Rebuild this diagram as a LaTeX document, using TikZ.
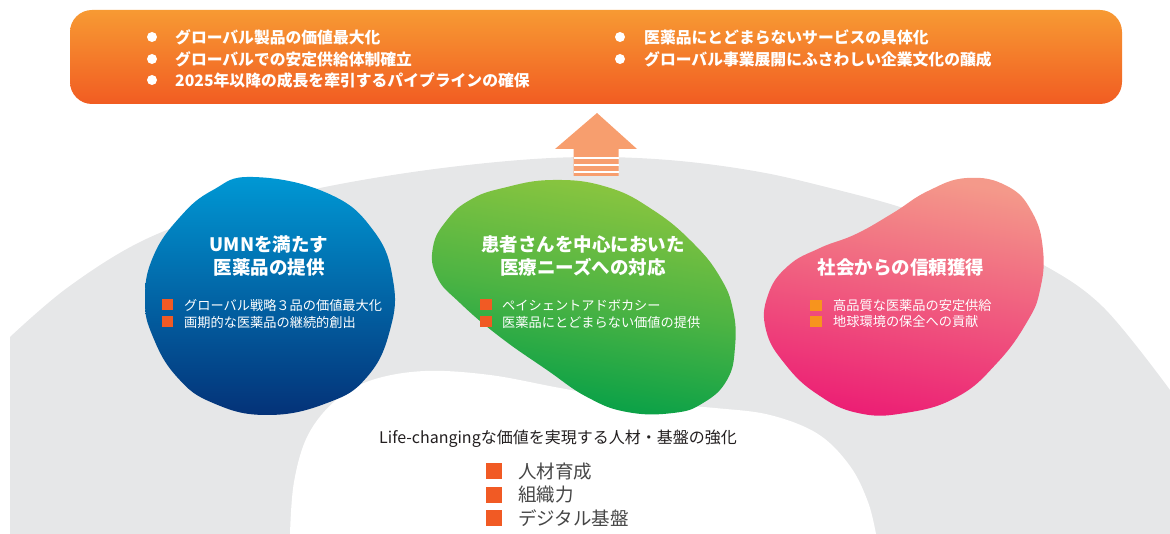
\documentclass[tikz,border=0pt]{standalone}
\usepackage{fontspec}
\setmainfont{Noto Sans CJK JP}
\definecolor{boxtop}{RGB}{247,154,51}
\definecolor{boxbot}{RGB}{241,92,34}
\definecolor{arrowc}{RGB}{247,158,110}
\definecolor{domegrey}{RGB}{230,231,232}
\definecolor{bluetop}{RGB}{0,152,212}
\definecolor{bluebot}{RGB}{4,50,120}
\definecolor{greentop}{RGB}{141,198,63}
\definecolor{greenbot}{RGB}{0,158,72}
\definecolor{pinktop}{RGB}{244,153,138}
\definecolor{pinkbot}{RGB}{236,30,116}
\definecolor{sqorange}{RGB}{241,90,36}
\definecolor{sqlight}{RGB}{247,148,29}
\definecolor{darktext}{RGB}{35,31,32}
\definecolor{listtext}{RGB}{70,70,70}
\begin{document}
\begin{tikzpicture}[x=1pt,y=-1pt,
  titletext/.style={font=\bfseries\fontsize{18.5}{22.5}\selectfont, text=white, align=center, inner sep=0pt},
  itemtext/.style={font=\fontsize{13.2}{16}\selectfont, text=white, anchor=west, inner sep=0pt},
  toptext/.style={font=\bfseries\fontsize{15.8}{19}\selectfont, text=white, anchor=west, inner sep=0pt},
  basetext/.style={font=\fontsize{18.5}{22}\selectfont, text=listtext, anchor=west, inner sep=0pt},
  sqbox/.style={fill=sqorange},
  blob/.style={smooth cycle, tension=0.75}
]
\useasboundingbox (0,0) rectangle (1170,534);

% grey dome
\fill[domegrey] (10,534) -- plot[smooth, tension=0.6] coordinates {(10,337) (67,288) (140,242) (220,212) (320,188) (420,171) (520,160) (600,157) (680,161) (760,172) (830,188) (900,207) (970,232) (1040,263) (1103,307) (1170,390)} -- (1170,534) -- cycle;

% white inner blob
\fill[white] (290,540) -- plot[smooth, tension=0.6] coordinates {(290,534) (294,482) (308,435) (336,400) (372,380) (425,371) (490,375) (560,388) (640,402) (715,408) (770,415) (818,434) (850,466) (868,502) (876,534)} -- (876,540) -- cycle;

% top box
\shade[top color=boxtop, bottom color=boxbot, rounded corners=22pt] (70,10) rectangle (1122,104);

% arrow
\fill[arrowc] (597,113) -- (637,149) -- (618.5,149) -- (618.5,176) -- (573.5,176) -- (573.5,149) -- (555,149) -- cycle;
\foreach \yy in {158.3,165.3,171.7}
  \fill[white] (573.5,\yy-1) rectangle (618.5,\yy+1);

% blue blob
\shade[top color=bluetop, bottom color=bluebot] plot[blob] coordinates {(253,177) (327,193) (373,230) (393,280) (390,330) (367,377) (327,403) (267,415) (213,403) (177,377) (153,337) (145,300) (153,257) (180,217) (213,190)};

% green blob
\shade[top color=greentop, bottom color=greenbot, middle color=greentop!55!greenbot, shading angle=-10] plot[blob] coordinates {(553,180) (607,187) (653,210) (693,243) (720,277) (733,310) (735,347) (727,380) (703,403) (673,413) (627,412) (587,397) (547,370) (500,337) (460,303) (437,277) (433,247) (447,220) (470,200) (503,188)};

% pink blob
\shade[top color=pinktop, bottom color=pinkbot, shading angle=-10] plot[blob] coordinates {(967,178) (1007,186) (1032,212) (1043,250) (1040,290) (1027,322) (997,363) (957,397) (905,413) (858,413) (817,394) (785,364) (766,330) (768,295) (788,266) (820,248) (856,234) (893,213) (928,191)};

% top box bullets and texts
\foreach \yy in {37,59,80} \fill[white] (152,\yy) circle (5);
\foreach \yy in {37,59} \fill[white] (620,\yy) circle (5);
\node[toptext] (t1) at (175,37) {グローバル製品の価値最大化};
\node[toptext] (t2) at (175,59) {グローバルでの安定供給体制確立};
\node[toptext] (t3) at (175,80) {2025年以降の成長を牽引するパイプラインの確保};
\node[toptext] (t4) at (644,37) {医薬品にとどまらないサービスの具体化};
\node[toptext] (t5) at (644,59) {グローバル事業展開にふさわしい企業文化の醸成};

% blue texts
\node[titletext] (btitle) at (269,256) {UMNを満たす\\医薬品の提供};
\fill[sqorange] (162,299.5) rectangle (173,310.5);
\fill[sqorange] (162,316.5) rectangle (173,327.5);
\node[itemtext] (b1) at (184,305) {グローバル戦略３品の価値最大化};
\node[itemtext] (b2) at (184,322) {画期的な医薬品の継続的創出};

% green texts
\node[titletext] (gtitle) at (583,256) {患者さんを中心においた\\医療ニーズへの対応};
\fill[sqorange] (480,299.5) rectangle (492,310.5);
\fill[sqorange] (480,316.5) rectangle (492,327.5);
\node[itemtext] (g1) at (502,305) {ペイシェントアドボカシー};
\node[itemtext] (g2) at (502,322) {医薬品にとどまらない価値の提供};

% pink texts
\node[titletext] (ptitle) at (901,267) {社会からの信頼獲得};
\fill[sqlight] (810,300) rectangle (822,311);
\fill[sqlight] (810,316) rectangle (822,327);
\node[itemtext] (p1) at (833,305.5) {高品質な医薬品の安定供給};
\node[itemtext] (p2) at (833,321.5) {地球環境の保全への貢献};

% base texts
\node[font=\fontsize{16}{19}\selectfont, text=darktext, inner sep=0pt] (base) at (558,439) {Life-changingな価値を実現する人材・基盤の強化};
\foreach \yy in {471,495,518} \fill[sqorange] (486,\yy-8) rectangle (502,\yy+8);
\node[basetext] (l1) at (518,472) {人材育成};
\node[basetext] (l2) at (518,495) {組織力};
\node[basetext] (l3) at (518,518) {デジタル基盤};
\end{tikzpicture}
\end{document}
